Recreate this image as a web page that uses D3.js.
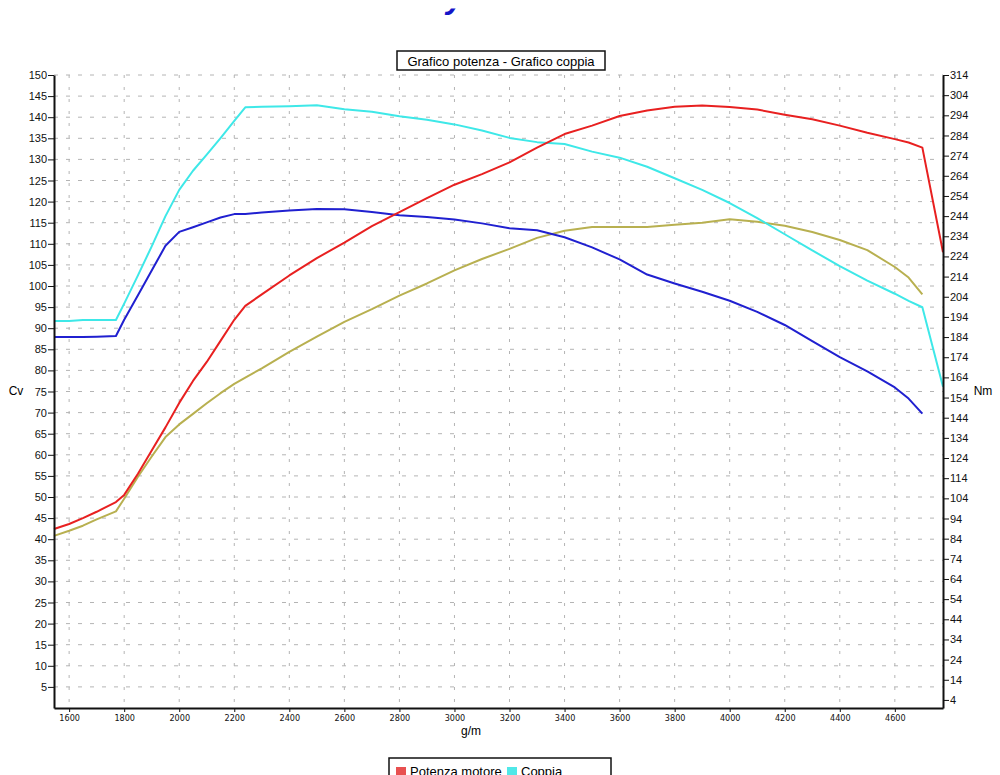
<!DOCTYPE html>
<html>
<head>
<meta charset="utf-8">
<script src="https://cdn.jsdelivr.net/npm/d3@7"></script>
<style>
  body { margin: 0; background: #fff; }
  svg { display: block; }
  text { font-family: "Liberation Sans", Arial, sans-serif; }
</style>
</head>
<body>
<div id="figure-holder"></div>
<script>
// rpm points (g/m) shared by all curves
const rpm = [1545, 1600, 1650, 1700, 1770, 1800, 1850, 1900, 1950, 2000, 2050, 2100, 2150, 2200, 2240,
  2300, 2400, 2500, 2600, 2700, 2800, 2900, 3000, 3100, 3200, 3300, 3400, 3500, 3600, 3700, 3800,
  3900, 4000, 4100, 4200, 4300, 4400, 4500, 4600, 4650, 4700, 4775];

// Potenza motore (Cv, left axis) - red
const potenzaA = [42.4, 43.6, 45.0, 46.5, 48.8, 50.5, 55.5, 61.0, 66.5, 72.3, 77.5, 82.0, 87.0, 92.0, 95.3,
  98.0, 102.5, 106.6, 110.3, 114.2, 117.5, 120.8, 124.0, 126.5, 129.3, 132.8, 136.0, 138.0, 140.3, 141.6, 142.5,
  142.8, 142.4, 141.8, 140.6, 139.5, 138.0, 136.3, 134.8, 134.0, 132.8, 108.0];

// Coppia (Nm, right axis) - cyan
const coppiaA = [192.0, 192.0, 192.5, 192.5, 192.5, 200.6, 214.6, 229.0, 244.0, 257.0, 266.5, 274.5, 282.7, 291.2, 298.0,
  298.2, 298.5, 299.0, 297.0, 295.8, 293.5, 291.8, 289.5, 286.5, 282.8, 280.7, 279.8, 276.0, 273.0, 268.5, 262.8,
  257.0, 250.5, 243.0, 235.0, 227.0, 219.2, 212.0, 205.5, 202.0, 198.8, 159.4];

// second run: Coppia (Nm, right axis) - blue
const coppiaB = [184.0, 184.0, 184.0, 184.2, 184.5, 192.6, 204.8, 217.0, 229.3, 236.2, 238.5, 240.9, 243.3, 245.0, 245.0,
  245.8, 246.8, 247.5, 247.4, 246.0, 244.4, 243.6, 242.3, 240.4, 238.0, 237.0, 233.5, 228.5, 222.5, 215.0, 210.6,
  206.5, 202.0, 196.5, 190.0, 182.0, 174.0, 167.0, 159.0, 153.5, 146.0, null];

// second run: Potenza (Cv, left axis) - olive
const potenzaB = [40.8, 42.0, 43.2, 44.7, 46.6, 49.6, 54.8, 59.6, 64.2, 67.2, 69.7, 72.2, 74.6, 76.8, 78.3,
  80.5, 84.4, 88.0, 91.5, 94.5, 97.7, 100.6, 103.7, 106.4, 108.8, 111.4, 113.1, 114.0, 114.0, 114.0, 114.5,
  115.0, 115.8, 115.2, 114.3, 112.8, 110.9, 108.5, 104.5, 102.0, 98.0, null];

const cvTicks = d3.range(5, 151, 5);
const nmTicks = d3.range(4, 315, 10);
const rpmTicks = d3.range(1600, 4601, 200);

const W = 1000, H = 775;
const plotLeft = 54, plotRight = 943, plotTop = 75, plotBottom = 708;

const svg = d3.select('#figure-holder').append('svg')
  .attr('width', W)
  .attr('height', H);

const x = d3.scaleLinear().domain([1545, 4775]).range([plotLeft, plotRight]);
const yL = d3.scaleLinear().domain([0, 150]).range([plotBottom, plotTop]);
const yR = d3.scaleLinear().domain([0, 314]).range([plotBottom, plotTop]);

// page title: only its lowest edge shows at the top of the page
svg.append('clipPath')
  .attr('id', 'title-clip')
  .append('rect')
  .attr('x', 0).attr('y', 8.5)
  .attr('width', W).attr('height', 20);

svg.append('text')
  .attr('clip-path', 'url(#title-clip)')
  .attr('x', 423)
  .attr('y', 8)
  .style('font-size', '32px')
  .style('font-weight', 'bold')
  .style('font-style', 'italic')
  .style('fill', '#1414c8')
  .text('Dyno test');

// grid
svg.append('g').selectAll('line')
  .data(cvTicks)
  .join('line')
  .attr('x1', plotLeft).attr('x2', plotRight)
  .attr('y1', d => yL(d)).attr('y2', d => yL(d))
  .attr('stroke', '#b4b4b4')
  .attr('stroke-width', 1)
  .attr('stroke-dasharray', '4,8');

svg.append('g').selectAll('line')
  .data(rpmTicks)
  .join('line')
  .attr('x1', d => x(d)).attr('x2', d => x(d))
  .attr('y1', plotTop).attr('y2', plotBottom)
  .attr('stroke', '#b4b4b4')
  .attr('stroke-width', 1)
  .attr('stroke-dasharray', '3,9');

// curves
const series = [
  { values: potenzaB, y: yL, color: '#b8b050' },
  { values: coppiaB, y: yR, color: '#2020d0' },
  { values: coppiaA, y: yR, color: '#3ee8e8' },
  { values: potenzaA, y: yL, color: '#e82020' }
];

series.forEach(s => {
  const line = d3.line()
    .defined(d => d[1] != null)
    .x(d => x(d[0]))
    .y(d => s.y(d[1]));
  svg.append('path')
    .datum(rpm.map((r, i) => [r, s.values[i]]))
    .attr('d', line)
    .attr('fill', 'none')
    .attr('stroke', s.color)
    .attr('stroke-width', 2)
    .attr('stroke-linejoin', 'round');
});

// axes
const axL = svg.append('g')
  .attr('id', 'y-axis-left')
  .attr('transform', `translate(${plotLeft}, 0)`)
  .call(d3.axisLeft(yL).tickValues(cvTicks).tickSize(6).tickSizeOuter(0));

const axR = svg.append('g')
  .attr('id', 'y-axis-right')
  .attr('transform', `translate(${plotRight}, 0)`)
  .call(d3.axisRight(yR).tickValues(nmTicks).tickSize(6).tickSizeOuter(0));

const axB = svg.append('g')
  .attr('id', 'x-axis')
  .attr('transform', `translate(0, ${plotBottom})`)
  .call(d3.axisBottom(x).tickValues(rpmTicks).tickFormat(d3.format('d')).tickSize(4).tickSizeOuter(0));

[axL, axR, axB].forEach(ax => {
  ax.select('.domain').attr('stroke', '#111').attr('stroke-width', 2);
  ax.selectAll('.tick line').attr('stroke', '#111');
  ax.selectAll('text').style('font-family', '"Liberation Sans", Arial, sans-serif').style('fill', '#111');
});
axL.selectAll('text').style('font-size', '11px').attr('x', -7);
axR.selectAll('text').style('font-size', '11px').attr('x', 7);
axB.selectAll('text')
  .style('font-family', '"Liberation Sans Narrow", "DejaVu Sans Condensed", sans-serif')
  .style('font-size', '9px')
  .attr('y', 7);

// axis titles
svg.append('text')
  .attr('x', 16).attr('y', 395)
  .attr('text-anchor', 'middle')
  .style('font-size', '12px')
  .text('Cv');

svg.append('text')
  .attr('x', 983).attr('y', 395)
  .attr('text-anchor', 'middle')
  .style('font-size', '12px')
  .text('Nm');

svg.append('text')
  .attr('x', 471).attr('y', 735)
  .attr('text-anchor', 'middle')
  .style('font-size', '12px')
  .text('g/m');

// chart title box
svg.append('rect')
  .attr('x', 397).attr('y', 51)
  .attr('width', 208).attr('height', 19)
  .attr('fill', '#fff')
  .attr('stroke', '#111')
  .attr('stroke-width', 1.5);

svg.append('text')
  .attr('x', 501).attr('y', 65.5)
  .attr('text-anchor', 'middle')
  .style('font-size', '13px')
  .text('Grafico potenza - Grafico coppia');

// legend (cut by the bottom of the page, as in the original)
svg.append('rect')
  .attr('x', 389).attr('y', 758)
  .attr('width', 222).attr('height', 40)
  .attr('fill', '#fff')
  .attr('stroke', '#111')
  .attr('stroke-width', 1.5);

const legend = [
  { label: 'Potenza motore', color: '#e85050', x: 396 },
  { label: 'Coppia', color: '#50e8e8', x: 507 }
];

legend.forEach(l => {
  svg.append('rect')
    .attr('x', l.x).attr('y', 767)
    .attr('width', 10).attr('height', 8)
    .attr('fill', l.color);
  svg.append('text')
    .attr('x', l.x + 14).attr('y', 776)
    .style('font-size', '13px')
    .text(l.label);
});
</script>
</body>
</html>
